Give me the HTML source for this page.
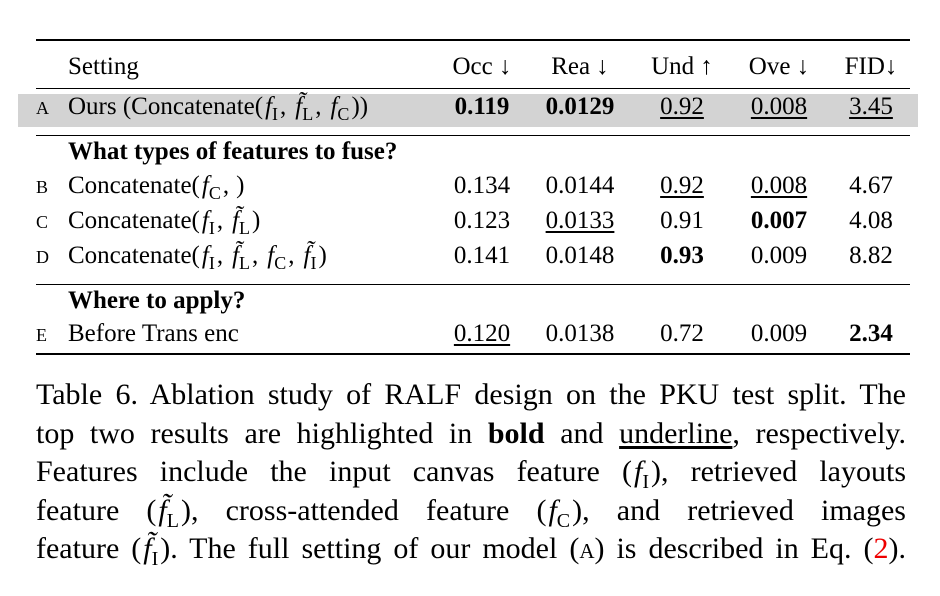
<!DOCTYPE html>
<html><head><meta charset="utf-8">
<style>
html,body{margin:0;padding:0;background:#fff;}
body{width:940px;height:596px;position:relative;overflow:hidden;font-family:"Liberation Serif","DejaVu Serif",serif;color:#000;}
.rule{position:absolute;left:36px;width:874px;background:#000;}
.hl{position:absolute;left:18px;width:900px;top:94px;height:33px;background:#d3d3d3;}
.t{position:absolute;font-size:25px;line-height:25px;white-space:nowrap;}
.c{transform:translateX(-50%);}
.sc{font-size:18px;}
.b{font-weight:bold;}
.u{text-decoration:underline;text-underline-offset:3px;}
i{padding:0 2px;}
i sub{font-style:normal;font-size:18px;}
.cm{margin-right:7px;}
.cap{position:absolute;left:36px;width:870px;font-size:30px;line-height:30px;text-align:justify;text-align-last:justify;white-space:nowrap;}
.cap i sub{font-size:20px;}
.red{color:#e00;}
</style></head><body>
<div class="rule" style="top:39px;height:2px"></div>
<div class="rule" style="top:88px;height:1px"></div>
<div class="hl"></div>
<div class="rule" style="top:135px;height:1px"></div>
<div class="rule" style="top:284px;height:1px"></div>
<div class="rule" style="top:353px;height:2px"></div>

<div>
<div class="t" style="left:68px;top:54px">Setting</div>
<div class="t c" style="left:482px;top:54px">Occ ↓</div>
<div class="t c" style="left:580px;top:54px">Rea ↓</div>
<div class="t c" style="left:682px;top:54px">Und ↑</div>
<div class="t c" style="left:779px;top:54px">Ove ↓</div>
<div class="t c" style="left:871px;top:54px">FID↓</div>
</div>

<div>
<div class="t sc" style="left:36px;top:96px">A</div>
<div class="t" style="left:68px;top:94px">Ours (Concatenate(<i>f<sub>I</sub></i><span class="cm">,</span><i>f̃<sub>L</sub></i><span class="cm">,</span><i>f<sub>C</sub></i>))</div>
<div class="t c b" style="left:482px;top:94px">0.119</div>
<div class="t c b" style="left:580px;top:94px">0.0129</div>
<div class="t c u" style="left:682px;top:94px">0.92</div>
<div class="t c u" style="left:779px;top:94px">0.008</div>
<div class="t c u" style="left:871px;top:94px">3.45</div>
</div>

<div class="t b" style="left:68px;top:139px">What types of features to fuse?</div>

<div>
<div class="t sc" style="left:36px;top:175px">B</div>
<div class="t" style="left:68px;top:173px">Concatenate(<i>f<sub>C</sub></i><span class="cm">,</span>)</div>
<div class="t c" style="left:482px;top:173px">0.134</div>
<div class="t c" style="left:580px;top:173px">0.0144</div>
<div class="t c u" style="left:682px;top:173px">0.92</div>
<div class="t c u" style="left:779px;top:173px">0.008</div>
<div class="t c" style="left:871px;top:173px">4.67</div>
</div>

<div>
<div class="t sc" style="left:36px;top:210px">C</div>
<div class="t" style="left:68px;top:208px">Concatenate(<i>f<sub>I</sub></i><span class="cm">,</span><i>f̃<sub>L</sub></i>)</div>
<div class="t c" style="left:482px;top:208px">0.123</div>
<div class="t c u" style="left:580px;top:208px">0.0133</div>
<div class="t c" style="left:682px;top:208px">0.91</div>
<div class="t c b" style="left:779px;top:208px">0.007</div>
<div class="t c" style="left:871px;top:208px">4.08</div>
</div>

<div>
<div class="t sc" style="left:36px;top:245px">D</div>
<div class="t" style="left:68px;top:243px">Concatenate(<i>f<sub>I</sub></i><span class="cm">,</span><i>f̃<sub>L</sub></i><span class="cm">,</span><i>f<sub>C</sub></i><span class="cm">,</span><i>f̃<sub>I</sub></i>)</div>
<div class="t c" style="left:482px;top:243px">0.141</div>
<div class="t c" style="left:580px;top:243px">0.0148</div>
<div class="t c b" style="left:682px;top:243px">0.93</div>
<div class="t c" style="left:779px;top:243px">0.009</div>
<div class="t c" style="left:871px;top:243px">8.82</div>
</div>

<div class="t b" style="left:68px;top:288px">Where to apply?</div>

<div>
<div class="t sc" style="left:36px;top:323px">E</div>
<div class="t" style="left:68px;top:321px">Before Trans enc</div>
<div class="t c u" style="left:482px;top:321px">0.120</div>
<div class="t c" style="left:580px;top:321px">0.0138</div>
<div class="t c" style="left:682px;top:321px">0.72</div>
<div class="t c" style="left:779px;top:321px">0.009</div>
<div class="t c b" style="left:871px;top:321px">2.34</div>
</div>

<div>
<div class="cap" style="top:380px">Table 6. Ablation study of RALF design on the PKU test split. The</div>
<div class="cap" style="top:419px">top two results are highlighted in <b>bold</b> and <span class="u">underline</span>, respectively.</div>
<div class="cap" style="top:457px">Features include the input canvas feature (<i>f<sub>I</sub></i>), retrieved layouts</div>
<div class="cap" style="top:496px">feature (<i>f̃<sub>L</sub></i>), cross-attended feature (<i>f<sub>C</sub></i>), and retrieved images</div>
<div class="cap" style="top:534px">feature (<i>f̃<sub>I</sub></i>). The full setting of our model (<span style="font-size:21px">A</span>) is described in Eq. (<span class="red">2</span>).</div>
</div>
</body></html>
